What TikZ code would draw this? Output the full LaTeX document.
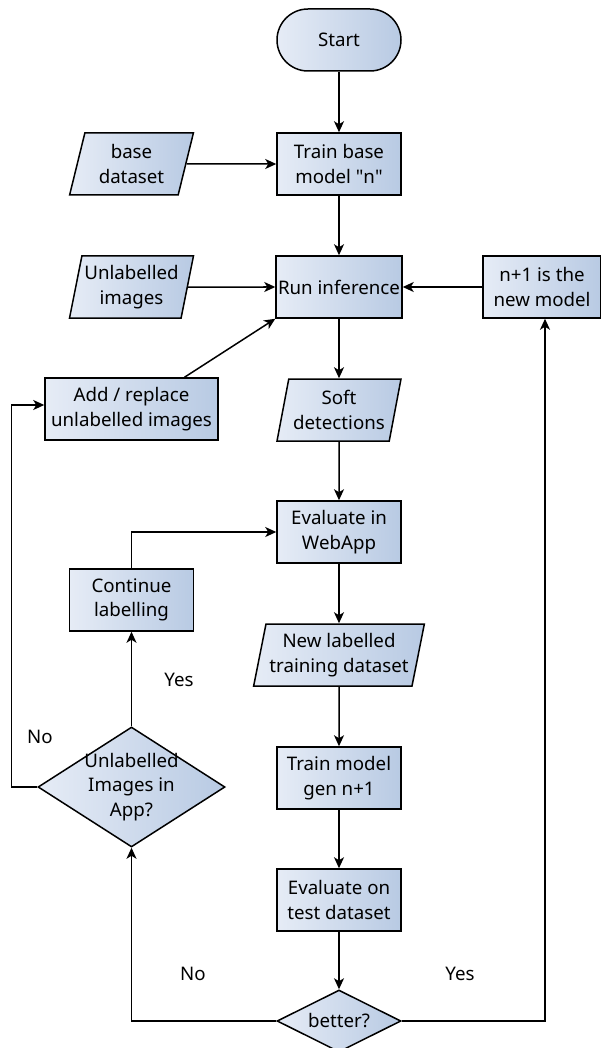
\documentclass[tikz,border=0pt]{standalone}
\usepackage{fontspec}
\setmainfont{Noto Sans}
\usepackage{tikz}
\usetikzlibrary{shapes.geometric,arrows.meta}
\definecolor{fillL}{HTML}{E6ECF6}
\definecolor{fillR}{HTML}{B8CAE3}

\begin{document}
\begin{tikzpicture}[x=1pt, y=-1pt, font=\fontsize{18.7}{24.5}\selectfont,
	box/.style={draw, line width=1.5pt, left color=fillL, right color=fillR, minimum width=124pt, minimum height=62pt, inner sep=2pt, align=center},
	term/.style={box, rounded corners=31pt},
	io/.style={box, trapezium, trapezium left angle=76, trapezium right angle=104, trapezium stretches=true, inner xsep=0pt},
	decision/.style={box, diamond, inner sep=0pt},
	flow/.style={line width=1.5pt, -{Stealth[length=11pt, width=10pt, inset=3pt]}}]
	\useasboundingbox (0,0) rectangle (601,1048);
	% main column
	\node[term] (start) at (339,40) {Start};
	\node[box] (trainbase) at (339,164) {Train base\\model \textquotedbl n\textquotedbl};
	\node[box] (run) at (339,287) {Run inference};
	\node[io] (soft) at (339,410) {Soft\\detections};
	\node[box] (webapp) at (339,532) {Evaluate in\\WebApp};
	\node[io, minimum width=171pt] (newlab) at (339,655) {New labelled\\training dataset};
	\node[box] (trainmodel) at (339,778) {Train model\\gen n+1};
	\node[box] (evaltest) at (339,900) {Evaluate on\\test dataset};
	\node[decision, minimum width=124pt, minimum height=62pt] (better) at (339,1021) {};
	\node at (better) {better?};
	% left column
	\node[io] (base) at (131.5,164) {base\\dataset};
	\node[io] (unlab) at (131.5,287) {Unlabelled\\images};
	\node[box, minimum width=173pt] (add) at (131.5,409) {Add / replace\\unlabelled images};
	\node[box] (cont) at (131.5,600) {Continue\\labelling};
	\node[decision, minimum width=187pt, minimum height=120pt] (app) at (131.5,787) {};
	\node[align=center] at (app) {Unlabelled\\Images in\\App?};
	% right column
	\node[box, minimum width=118pt] (newmodel) at (542,287) {n+1 is the\\new model};

	\draw[flow] (start) -- (trainbase);
	\draw[flow] (base) -- (trainbase);
	\draw[flow] (trainbase) -- (run);
	\draw[flow] (unlab) -- (run);
	\draw[flow] (newmodel) -- (run);
	\draw[flow] ([xshift=53pt]add.north) -- (run.south west);
	\draw[flow] (run) -- (soft);
	\draw[flow] (soft) -- (webapp);
	\draw[flow] (webapp) -- (newlab);
	\draw[flow] (newlab) -- (trainmodel);
	\draw[flow] (trainmodel) -- (evaltest);
	\draw[flow] (evaltest) -- (better);
	\draw[flow] (better.east) -| ([xshift=3pt]newmodel.south);
	\draw[flow] (better.west) -| (app.south);
	\draw[flow] (app.north) -- (cont.south);
	\draw[flow] (cont.north) |- (webapp.west);
	\draw[flow] (app.west) -- ++(-26,0) |- ([yshift=4pt]add.west);
	% branch labels
	\node (yes1) at (460,974) {Yes};
	\node (no1) at (193,974) {No};
	\node (yes2) at (179,680) {Yes};
	\node (no2) at (40,737) {No};
\end{tikzpicture}
\end{document}
